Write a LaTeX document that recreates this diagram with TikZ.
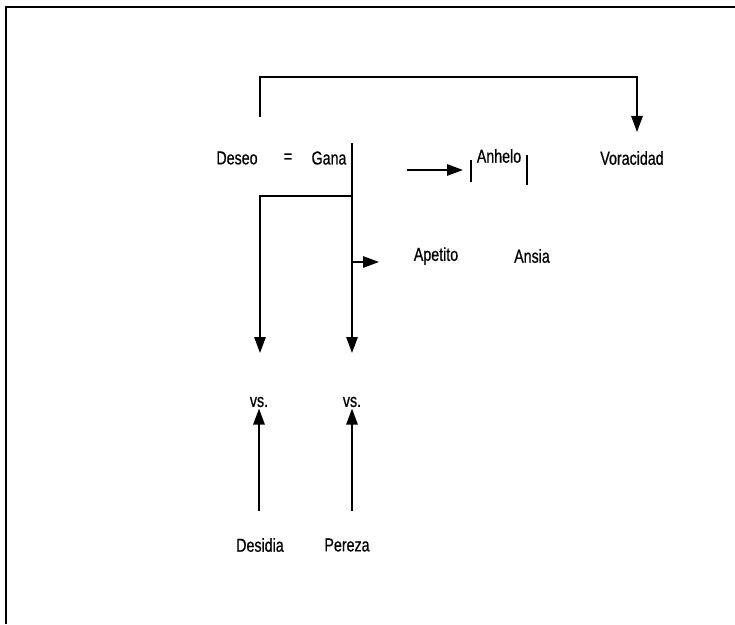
\documentclass[tikz,border=0pt]{standalone}
\usepackage{fontspec}
\setmainfont{Liberation Sans}[FakeStretch=0.76, FakeBold=0.6]
\usetikzlibrary{arrows.meta, positioning, calc}
\tikzset{
  word/.style={inner sep=1pt, font=\fontsize{16}{19}\selectfont},
  arrow/.style={-{Triangle[length=4.8mm, width=3.4mm]}, line width=1.5pt, draw=black},
  line/.style={line width=1.5pt, draw=black},
  frame/.style={line width=1.6pt, draw=black}
}
\begin{document}
\begin{tikzpicture}[x=0.3mm, y=-0.3mm]
\useasboundingbox (0,0) rectangle (735,624);
\draw[frame] (6,624) -- (6,7) -- (735,7);
% terms
\node[word] (deseo) at (237,158) {Deseo};
\node[word] (eq) at (288,158) {=};
\node[word] (gana) at (329,158) {Gana};
\node[word] (anhelo) at (499,156) {Anhelo};
\node[word] (voracidad) at (632,158) {Voracidad};
\node[word] (apetito) at (436,256) {Apetito};
\node[word] (ansia) at (532,256) {Ansia};
\node[word] (vs1) at (259,402) {vs.};
\node[word] (vs2) at (352,402) {vs.};
\node[word] (desidia) at (260,545) {Desidia};
\node[word] (pereza) at (347,545) {Pereza};
% junctions
\coordinate (topL) at (260,117);
\coordinate (vtop) at (637,132);
\coordinate (barT) at (352,143);
\coordinate (barB) at (352,353);
\coordinate (split) at (352,196);
\coordinate (leftB) at (260,353);
\coordinate (side) at (352,262);
\coordinate (anhL) at (407,170);
% connectors
\draw[arrow] (topL) |- (vtop |- 0,77) -- (vtop);
\draw[arrow] (barT) -- (barB);
\draw[arrow] (split) -| (leftB);
\draw[arrow] (side) -- ++(27,0);
\draw[arrow] (anhL) -- ++(56,0);
\draw[line] (471,160) -- (471,182);
\draw[line] (527,155) -- (527,185);
\draw[arrow] ($(desidia.north -| vs1)+(0,-26)$) -- (vs1.south);
\draw[arrow] ($(pereza.north -| vs2)+(0,-26)$) -- (vs2.south);
\end{tikzpicture}
\end{document}
